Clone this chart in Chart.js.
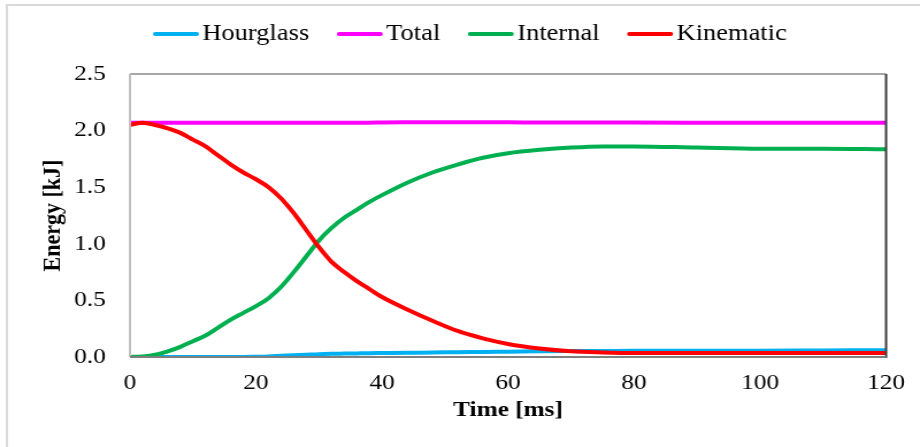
<!DOCTYPE html>
<html>
<head>
<meta charset="utf-8">
<script src="https://cdn.jsdelivr.net/npm/chart.js@4.4.1/dist/chart.umd.min.js"></script>
<style>
    html, body { margin: 0; padding: 0; background: #ffffff; overflow: hidden; }
</style>
</head>
<body>
<!-- the original figure is stretched horizontally, so the canvas is drawn narrower and scaled up -->
<canvas id="energyChart" width="800" height="447" style="display:block;width:920px;height:447px;"></canvas>
<script>
// Time axis (ms), shared by all series
const timeMs = [0, 2, 4, 6, 8, 10, 12, 14, 16, 18, 20, 22, 24, 26, 28, 30, 32, 34, 36, 38, 40,
    44, 48, 52, 56, 60, 65, 70, 75, 80, 90, 100, 110, 120];

// Energy series (kJ)
const hourglass = [0, 0, 0, 0, 0, 0, 0, 0, 0, 0, 0.002, 0.005, 0.01, 0.015, 0.02, 0.025, 0.028, 0.03, 0.032, 0.034, 0.035,
    0.037, 0.04, 0.042, 0.045, 0.047, 0.05, 0.052, 0.053, 0.055, 0.055, 0.056, 0.058, 0.06];
const total = [2.07, 2.07, 2.07, 2.07, 2.07, 2.07, 2.07, 2.07, 2.07, 2.07, 2.07, 2.07, 2.07, 2.07, 2.07, 2.07, 2.07, 2.07, 2.07, 2.07, 2.072,
    2.073, 2.073, 2.073, 2.073, 2.073, 2.072, 2.072, 2.072, 2.071, 2.07, 2.07, 2.07, 2.07];
const internal = [0, 0.005, 0.02, 0.05, 0.09, 0.14, 0.19, 0.26, 0.33, 0.39, 0.45, 0.52, 0.62, 0.75, 0.89, 1.03, 1.14, 1.23, 1.30, 1.37, 1.43,
    1.54, 1.63, 1.70, 1.76, 1.80, 1.83, 1.85, 1.86, 1.86, 1.85, 1.84, 1.84, 1.835];
const kinematic = [2.05, 2.07, 2.05, 2.02, 1.98, 1.92, 1.86, 1.78, 1.70, 1.63, 1.57, 1.50, 1.40, 1.27, 1.12, 0.97, 0.84, 0.75, 0.67, 0.60, 0.53,
    0.42, 0.32, 0.23, 0.165, 0.115, 0.075, 0.05, 0.04, 0.035, 0.035, 0.035, 0.035, 0.035];

const seriesNames = ['Hourglass', 'Total', 'Internal', 'Kinematic'];
const seriesColors = ['#00B0F0', '#FF00FF', '#00B050', '#FF0000'];
const yTicks = [0, 0.5, 1.0, 1.5, 2.0, 2.5];
const xTicks = [0, 20, 40, 60, 80, 100, 120];

const serif = "'Liberation Serif', 'Times New Roman', serif";

function toPoints(values) {
    return values.map((v, i) => ({ x: timeMs[i], y: v }));
}

/**
 * White background and the light outer frame of the figure
 */
const framePlugin = {
    id: 'frame',
    beforeDraw(chart) {
        const ctx = chart.ctx;
        ctx.save();
        ctx.fillStyle = '#ffffff';
        ctx.fillRect(0, 0, chart.width, chart.height);
        ctx.strokeStyle = '#d9d9d9';
        ctx.lineWidth = 2;
        ctx.beginPath();
        ctx.moveTo(6, chart.height);
        ctx.lineTo(6, 5);
        ctx.lineTo(chart.width, 5);
        ctx.stroke();
        ctx.restore();
    }
};

/**
 * Box around the plot area (Excel style: lighter top/left, darker right/bottom)
 */
const plotBoxPlugin = {
    id: 'plotBox',
    afterDatasetsDraw(chart) {
        const { left, right, top, bottom } = chart.chartArea;
        const ctx = chart.ctx;
        const side = (x1, y1, x2, y2, color) => {
            ctx.strokeStyle = color;
            ctx.beginPath();
            ctx.moveTo(x1, y1);
            ctx.lineTo(x2, y2);
            ctx.stroke();
        };
        ctx.save();
        ctx.lineWidth = 2;
        side(left, top, right, top, '#a6a6a6');
        side(left, top, left, bottom, '#bfbfbf');
        side(right, top, right, bottom + 1, '#404040');
        side(left, bottom, right, bottom, '#7f7f7f');
        ctx.restore();
    }
};

/**
 * Legend drawn by hand: long line sample, small gap, then the label
 */
const lineLegendPlugin = {
    id: 'lineLegend',
    afterDraw(chart) {
        const ctx = chart.ctx;
        const lineLen = 40, gap = 3, spacing = 24, yMid = 34;
        ctx.save();
        ctx.font = '23px ' + serif;
        ctx.textBaseline = 'middle';
        ctx.textAlign = 'left';
        let x = 133;
        chart.data.datasets.forEach(ds => {
            ctx.strokeStyle = ds.borderColor;
            ctx.lineWidth = 4;
            ctx.lineCap = 'round';
            ctx.beginPath();
            ctx.moveTo(x + 2, yMid);
            ctx.lineTo(x + lineLen - 2, yMid);
            ctx.stroke();
            x += lineLen + gap;
            ctx.fillStyle = '#000000';
            ctx.fillText(ds.label, x, yMid);
            x += ctx.measureText(ds.label).width + spacing;
        });
        ctx.restore();
    }
};

const seriesValues = [hourglass, total, internal, kinematic];
const drawOrder = [3, 2, 1, 0];

const ctx = document.getElementById('energyChart').getContext('2d');
const chart = new Chart(ctx, {
    type: 'line',
    data: {
        datasets: seriesNames.map((name, i) => ({
            label: name,
            data: toPoints(seriesValues[i]),
            borderColor: seriesColors[i],
            backgroundColor: seriesColors[i],
            borderWidth: 4,
            pointRadius: 0,
            fill: false,
            cubicInterpolationMode: 'monotone',
            order: drawOrder[i]
        }))
    },
    options: {
        responsive: false,
        animation: false,
        layout: { padding: { top: 74, left: 0, right: 27, bottom: 0 } },
        plugins: {
            legend: { display: false },
            tooltip: { enabled: false }
        },
        scales: {
            x: {
                type: 'linear',
                min: 0,
                max: 120,
                grid: { display: false, drawTicks: false },
                border: { display: false },
                afterBuildTicks: scale => { scale.ticks = xTicks.map(v => ({ value: v })); },
                afterFit: scale => { scale.height = 90; },
                ticks: {
                    color: '#000000',
                    padding: 13,
                    maxRotation: 0,
                    font: { family: serif, size: 22 }
                },
                title: {
                    display: true,
                    text: 'Time [ms]',
                    color: '#000000',
                    padding: { top: 0, bottom: 23 },
                    font: { family: serif, size: 22, weight: 'bold' }
                }
            },
            y: {
                min: 0,
                max: 2.5,
                grid: { display: false, drawTicks: false },
                border: { display: false },
                afterBuildTicks: scale => { scale.ticks = yTicks.map(v => ({ value: v })); },
                afterFit: scale => { scale.width = 113; },
                ticks: {
                    color: '#000000',
                    padding: 21,
                    font: { family: serif, size: 22 },
                    callback: value => Number(value).toFixed(1)
                },
                title: {
                    display: true,
                    text: 'Energy [kJ]',
                    color: '#000000',
                    padding: { top: 33, bottom: 0 },
                    font: { family: serif, size: 22, weight: 'bold' }
                }
            }
        }
    },
    plugins: [framePlugin, plotBoxPlugin, lineLegendPlugin]
});
</script>
</body>
</html>
